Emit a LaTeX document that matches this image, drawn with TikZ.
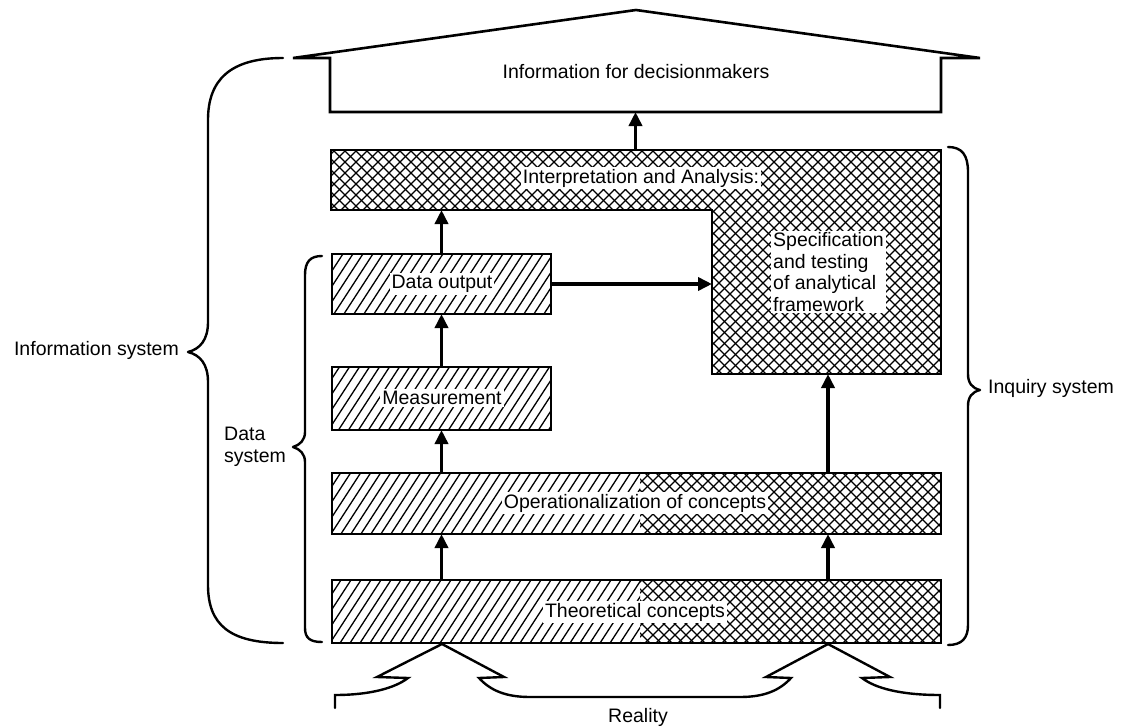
\documentclass[tikz,border=0pt]{standalone}
\usepackage{fontspec}
\setmainfont{Liberation Sans}
\usetikzlibrary{arrows.meta}
\tikzset{
  outline/.style={line width=2.6pt, line join=miter},
  box/.style={draw, rectangle, line width=2.6pt, inner sep=0pt, outer sep=0pt},
  ghost/.style={rectangle, inner sep=0pt, outer sep=0pt},
  hline/.style={line width=1.3pt},
  flow/.style={line width=3.6pt, -{Triangle[length=14pt,width=13pt]}},
  brace/.style={line width=2.4pt, line cap=round, line join=round},
  lbl/.style={font=\fontsize{19.5}{21.5}\selectfont, inner sep=2pt},
  clr/.style={lbl, fill=white},
}
\newcommand\mydiagfill[1]{\begin{scope}\clip #1;\foreach \s in {-200,-190,...,1000}\draw[hline] (\s,720) -- ++(468,-720);\end{scope}}
\newcommand\myxfill[1]{\begin{scope}\clip #1;\foreach \s in {-400,-389,...,1000}{\draw[hline] (\s,720) -- ++(720,-720);\draw[hline] (\s,0) -- ++(720,720);}\end{scope}}
\begin{document}
\begin{tikzpicture}[x=1pt,y=-1pt]
\useasboundingbox (0,0) rectangle (1133,728);

% ---------- information for decisionmakers (house) ----------
\node[ghost, minimum width=611, minimum height=54] (info) at (635.5,85) {};
\draw[outline] (293,58) -- (636,10) -- (980,58) -- (info.north east) -- (info.south east)
  -- (info.south west) -- (info.north west) -- cycle;
\node[lbl] (tinfo) at (636,72) {Information for decisionmakers};

% ---------- interpretation and analysis (L shape) ----------
\node[ghost, minimum width=610, minimum height=60] (interp) at (636,180) {};
\node[ghost, minimum width=229, minimum height=224] (spec) at (826.5,262) {};
\myxfill{(interp.north west) -- (spec.north east) -- (spec.south east) -- (spec.south west) -- (spec.west |- interp.south) -- (interp.south west) -- cycle}
\draw[outline] (interp.north west) -- (spec.north east) -- (spec.south east) -- (spec.south west)
  -- (spec.west |- interp.south) -- (interp.south west) -- cycle;
\node[clr] (tinterp) at (641,178) {Interpretation and Analysis:};
\node[clr, align=left, anchor=west] (tspec) at (771,272) {Specification\\and testing\\of analytical\\framework};

% ---------- data system boxes ----------
\node[box, minimum width=219, minimum height=60] (dout) at (441.5,284) {};
\node[box, minimum width=219, minimum height=63] (meas) at (441.5,398.5) {};
\node[box, minimum width=609, minimum height=61] (op) at (636.5,503.5) {};
\node[box, minimum width=609, minimum height=63] (theo) at (636.5,611.5) {};

\mydiagfill{(dout.south west) rectangle (dout.north east)}
\mydiagfill{(meas.south west) rectangle (meas.north east)}
\mydiagfill{(op.south west) rectangle (640,473)}
\myxfill{(640,534) rectangle (op.north east)}
\mydiagfill{(theo.south west) rectangle (640,580)}
\myxfill{(640,643) rectangle (theo.north east)}

\node[clr] (tdout) at (442,284) {Data output};
\node[clr] (tmeas) at (442,398) {Measurement};
\node[clr] (top) at (635,503) {Operationalization of concepts};
\node[clr] (ttheo) at (635,612) {Theoretical concepts};

% ---------- arrows ----------
\coordinate (colR) at (828,0);
\draw[flow] (interp.north -| info.south) -- (info.south);
\draw[flow] (dout.north) -- (interp.south -| dout.north);
\draw[flow] (dout.east) -- (spec.west |- dout.east);
\draw[flow] (meas.north) -- (dout.south);
\draw[flow] (op.north -| meas.north) -- (meas.south);
\draw[flow] (theo.north -| meas.north) -- (op.south -| meas.north);
\draw[flow] (op.north -| colR) -- (spec.south -| colR);
\draw[flow] (theo.north -| colR) -- (op.south -| colR);

% ---------- braces ----------
\draw[brace] (283,58) .. controls (230,58) and (208,80) .. (208,120) -- (208,322)
  .. controls (208,340) and (200,349) .. (188,352)
  .. controls (200,355) and (208,364) .. (208,382) -- (208,585)
  .. controls (208,625) and (230,643) .. (283,643);
\draw[brace] (322,256) .. controls (310,256) and (305,262) .. (305,275) -- (305,432)
  .. controls (305,440) and (300,445) .. (293,447)
  .. controls (300,449) and (305,454) .. (305,462) -- (305,628)
  .. controls (305,638) and (310,642) .. (322,642);
\draw[brace] (948,147) .. controls (962,147) and (968,155) .. (968,172) -- (968,374)
  .. controls (968,383) and (972,388) .. (980,390)
  .. controls (972,392) and (968,397) .. (968,406) -- (968,625)
  .. controls (968,638) and (962,645) .. (948,645);

\node[lbl, anchor=east] (tinfosys) at (181,350) {Information system};
\node[lbl, align=left, anchor=west] (tdata) at (222,447) {Data\\system};
\node[lbl, anchor=west] (tinq) at (986,388) {Inquiry system};

% ---------- reality ----------
\draw[brace, line join=miter] (335,708) -- (335,695) .. controls (370,695) and (395,688) .. (408,678)
  -- (377,677) -- (442,644) -- (504,677) -- (479,678)
  .. controls (490,690) and (505,697) .. (530,697) -- (740,697)
  .. controls (765,697) and (780,690) .. (791,678)
  -- (766,677) -- (828,644) -- (890,677) -- (862,678)
  .. controls (875,688) and (900,695) .. (940,695) -- (940,708);
\node[lbl] (treal) at (638,717) {Reality};
\end{tikzpicture}
\end{document}
